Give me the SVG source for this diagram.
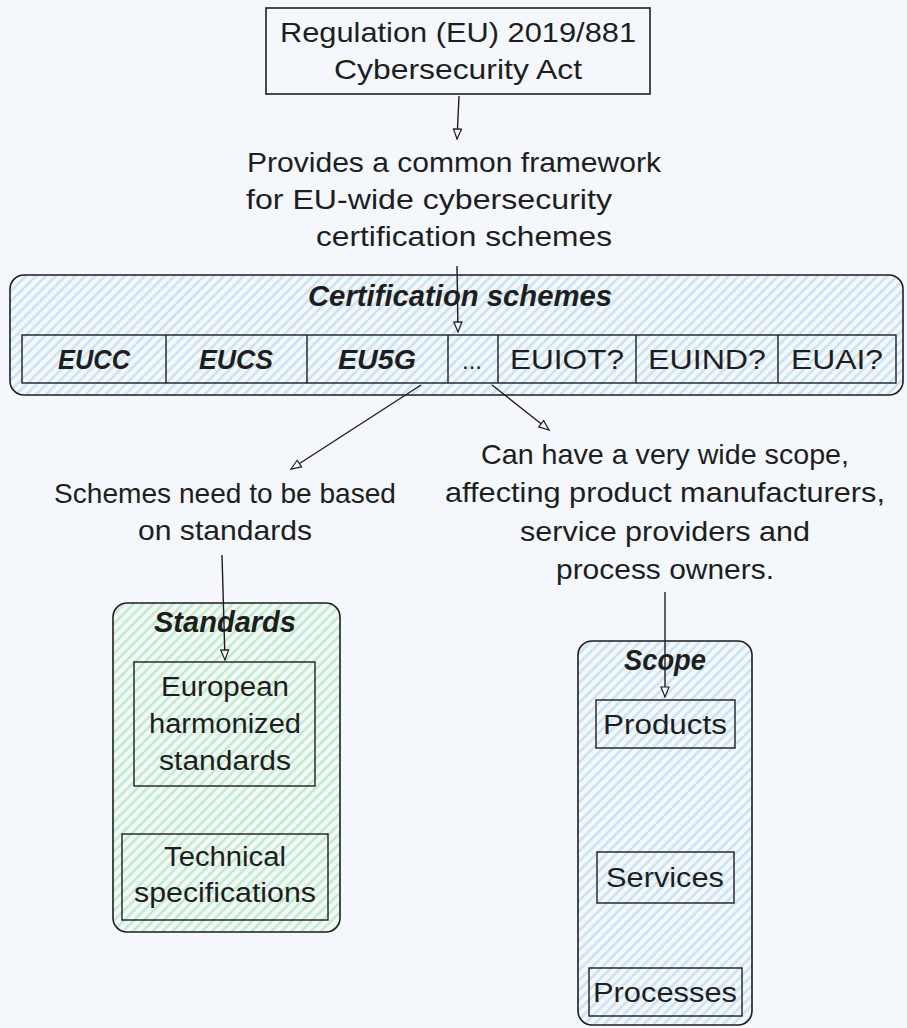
<svg xmlns="http://www.w3.org/2000/svg" width="907" height="1028" viewBox="0 0 907 1028">
<defs>
<pattern id="hb" patternUnits="userSpaceOnUse" width="7" height="7" patternTransform="rotate(45)">
<rect width="7" height="7" fill="#f4f7fc"/>
<line x1="3.5" y1="0" x2="3.5" y2="7" stroke="#c2e1ef" stroke-width="2.2"/>
</pattern>
<pattern id="hg" patternUnits="userSpaceOnUse" width="7" height="7" patternTransform="rotate(45)">
<rect width="7" height="7" fill="#f4f7fc"/>
<line x1="3.5" y1="0" x2="3.5" y2="7" stroke="#b5ecbd" stroke-width="2.2"/>
</pattern>
<marker id="ah" markerWidth="14" markerHeight="14" refX="11" refY="5" orient="auto" markerUnits="userSpaceOnUse">
<path d="M1,1 L11,5 L1,9 Z" fill="#f4f7fc" stroke="#1e1e1e" stroke-width="1.2"/>
</marker>
<style>
.t{font-family:"Liberation Sans",Arial,sans-serif;fill:#1e1e1e;text-anchor:middle}
.ti{font-family:"Liberation Sans",Arial,sans-serif;fill:#1e1e1e;text-anchor:middle;font-style:italic}
.b{stroke:#1e1e1e;stroke-width:1.6}
.c{stroke:#1e1e1e;stroke-width:1.4}
</style>
</defs>
<rect width="907" height="1028" fill="#f4f7fc"/>

<g id="regulation">
<rect x="266" y="8" width="384" height="86" class="b" fill="#f4f7fc"/>
<text class="t" x="458" y="42" font-size="28" textLength="356" lengthAdjust="spacingAndGlyphs">Regulation (EU) 2019/881</text>
<text class="t" x="458" y="79" font-size="28" textLength="248" lengthAdjust="spacingAndGlyphs">Cybersecurity Act</text>
</g>

<g id="framework-text">
<text class="t" x="454" y="172" font-size="28" textLength="414" lengthAdjust="spacingAndGlyphs">Provides a common framework</text>
<text class="t" x="429" y="209" font-size="28" textLength="366" lengthAdjust="spacingAndGlyphs">for EU-wide cybersecurity</text>
<text class="t" x="464" y="246" font-size="28" textLength="296" lengthAdjust="spacingAndGlyphs">certification schemes</text>
</g>

<g id="certification-schemes">
<rect x="10" y="275" width="893" height="120" rx="14" class="b" fill="url(#hb)"/>
<text class="ti" x="460" y="306" font-size="29" font-weight="bold" textLength="304" lengthAdjust="spacingAndGlyphs">Certification schemes</text>
<rect x="22" y="335" width="874" height="48" class="c" fill="none"/>
<line x1="166" y1="335" x2="166" y2="383" class="c"/>
<line x1="307" y1="335" x2="307" y2="383" class="c"/>
<line x1="448" y1="335" x2="448" y2="383" class="c"/>
<line x1="498" y1="335" x2="498" y2="383" class="c"/>
<line x1="636" y1="335" x2="636" y2="383" class="c"/>
<line x1="778" y1="335" x2="778" y2="383" class="c"/>
<text class="ti" x="94" y="369" font-size="28" font-weight="bold" textLength="72" lengthAdjust="spacingAndGlyphs">EUCC</text>
<text class="ti" x="236" y="369" font-size="28" font-weight="bold" textLength="74" lengthAdjust="spacingAndGlyphs">EUCS</text>
<text class="ti" x="377" y="369" font-size="28" font-weight="bold" textLength="78" lengthAdjust="spacingAndGlyphs">EU5G</text>
<text class="t" x="472" y="369" font-size="24">...</text>
<text class="t" x="567" y="369" font-size="28" textLength="114" lengthAdjust="spacingAndGlyphs">EUIOT?</text>
<text class="t" x="707" y="369" font-size="28" textLength="118" lengthAdjust="spacingAndGlyphs">EUIND?</text>
<text class="t" x="837" y="369" font-size="28" textLength="92" lengthAdjust="spacingAndGlyphs">EUAI?</text>
</g>

<g id="standards-text">
<text class="t" x="225" y="503" font-size="28" textLength="342" lengthAdjust="spacingAndGlyphs">Schemes need to be based</text>
<text class="t" x="225" y="540" font-size="28" textLength="174" lengthAdjust="spacingAndGlyphs">on standards</text>
</g>

<g id="scope-text">
<text class="t" x="665" y="464" font-size="28" textLength="368" lengthAdjust="spacingAndGlyphs">Can have a very wide scope,</text>
<text class="t" x="665" y="502" font-size="28" textLength="440" lengthAdjust="spacingAndGlyphs">affecting product manufacturers,</text>
<text class="t" x="665" y="541" font-size="28" textLength="290" lengthAdjust="spacingAndGlyphs">service providers and</text>
<text class="t" x="665" y="579" font-size="28" textLength="218" lengthAdjust="spacingAndGlyphs">process owners.</text>
</g>

<g id="standards">
<rect x="113" y="603" width="227" height="329" rx="14" class="b" fill="url(#hg)"/>
<text class="ti" x="225" y="632" font-size="29" font-weight="bold" textLength="142" lengthAdjust="spacingAndGlyphs">Standards</text>
<rect x="134" y="662" width="181" height="124" class="c" fill="none"/>
<text class="t" x="225" y="696" font-size="27" textLength="128" lengthAdjust="spacingAndGlyphs">European</text>
<text class="t" x="225" y="733" font-size="27" textLength="152" lengthAdjust="spacingAndGlyphs">harmonized</text>
<text class="t" x="225" y="770" font-size="27" textLength="132" lengthAdjust="spacingAndGlyphs">standards</text>
<rect x="122" y="834" width="206" height="86" class="c" fill="none"/>
<text class="t" x="225" y="866" font-size="27" textLength="122" lengthAdjust="spacingAndGlyphs">Technical</text>
<text class="t" x="225" y="902" font-size="27" textLength="182" lengthAdjust="spacingAndGlyphs">specifications</text>
</g>

<g id="scope">
<rect x="578" y="641" width="174" height="384" rx="14" class="b" fill="url(#hb)"/>
<text class="ti" x="665" y="670" font-size="29" font-weight="bold" textLength="82" lengthAdjust="spacingAndGlyphs">Scope</text>
<rect x="596" y="700" width="139" height="48" class="c" fill="none"/>
<text class="t" x="665" y="734" font-size="27" textLength="124" lengthAdjust="spacingAndGlyphs">Products</text>
<rect x="597" y="852" width="137" height="51" class="c" fill="none"/>
<text class="t" x="665" y="887" font-size="27" textLength="118" lengthAdjust="spacingAndGlyphs">Services</text>
<rect x="589" y="968" width="153" height="48" class="c" fill="none"/>
<text class="t" x="665" y="1002" font-size="27" textLength="144" lengthAdjust="spacingAndGlyphs">Processes</text>
</g>

<g id="connectors" fill="none">
<path d="M459,96 L457,139" class="c" marker-end="url(#ah)"/>
<path d="M457,266 L458,332" class="c" marker-end="url(#ah)"/>
<path d="M421,385 L291,469" class="c" marker-end="url(#ah)"/>
<path d="M492,385 L549,430" class="c" marker-end="url(#ah)"/>
<path d="M222,555 L225,660" class="c" marker-end="url(#ah)"/>
<path d="M665,592 L665,697" class="c" marker-end="url(#ah)"/>
</g>
</svg>
